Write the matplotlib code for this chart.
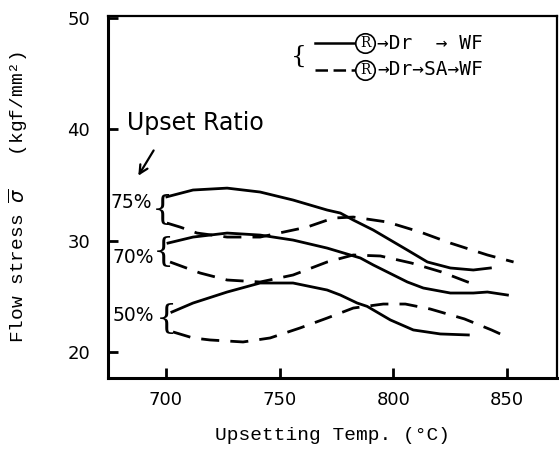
import matplotlib
matplotlib.use("Agg")
import matplotlib.pyplot as plt

# ---- data ----
temp_75_solid = [700.4, 711.9, 726.9, 741.4, 755.9, 770.9, 776.7, 782.4, 791.2, 806.2, 815.0, 825.1, 835.2, 842.7]
flow_75_solid = [33.95, 34.56, 34.73, 34.38, 33.66, 32.76, 32.49, 31.86, 30.96, 29.16, 28.09, 27.55, 27.37, 27.55]

temp_75_dash = [700.4, 706.2, 713.7, 726.9, 741.4, 755.9, 762.1, 773.6, 782.4, 797.4, 811.9, 825.1, 841.4, 852.9]
flow_75_dash = [31.59, 31.23, 30.69, 30.33, 30.33, 30.96, 31.23, 32.04, 32.13, 31.68, 30.78, 29.79, 28.72, 28.09]

temp_70_solid = [700.9, 711.9, 726.9, 741.4, 755.9, 770.9, 785.5, 791.2, 806.2, 813.2, 825.1, 835.2, 841.4, 850.2]
flow_70_solid = [29.79, 30.33, 30.69, 30.51, 30.06, 29.34, 28.45, 27.82, 26.29, 25.75, 25.30, 25.30, 25.39, 25.12]

temp_70_dash = [701.8, 715.0, 726.9, 741.4, 755.9, 770.9, 782.4, 794.3, 807.9, 821.1, 832.6, 837.0]
flow_70_dash = [28.09, 27.10, 26.47, 26.29, 26.92, 28.09, 28.72, 28.63, 28.00, 27.20, 26.30, 26.02]

temp_50_solid = [702.6, 711.9, 726.9, 741.4, 755.9, 770.9, 776.7, 784.1, 788.5, 798.7, 808.8, 820.7, 833.0]
flow_50_solid = [23.59, 24.40, 25.39, 26.20, 26.20, 25.57, 25.12, 24.40, 24.10, 22.88, 21.98, 21.62, 21.53]

temp_50_dash = [703.1, 711.9, 719.4, 733.9, 745.8, 759.0, 770.9, 782.4, 795.6, 805.3, 816.3, 831.3, 843.2, 847.1]
flow_50_dash = [21.80, 21.26, 21.08, 20.90, 21.26, 22.16, 23.05, 23.95, 24.31, 24.31, 23.86, 22.97, 21.98, 21.62]

x_ticks = [700, 750, 800, 850]
y_ticks = [20, 30, 40, 50]
ratio_labels = ["75%", "70%", "50%"]
ratio_label_pos = [(694.0, 33.48), (694.6, 28.45), (694.6, 23.32)]
ratio_brace_pos = [(698.6, 32.76), (698.8, 28.98), (700.0, 22.96)]

MONO = ["Liberation Mono", "DejaVu Sans Mono"]
LEG_MONO = ["DejaVu Sans Mono"]

plt.rcParams["lines.scale_dashes"] = False
fig = plt.figure(figsize=(5.59, 4.49), dpi=100)
ax = fig.add_axes([0.1932, 0.1581, 0.8032, 0.8062])
ax.set_xlim(674.5, 872)
ax.set_ylim(17.66, 50.2)

LW = 2.0
DASH = (13, 8)
ax.plot(temp_75_solid, flow_75_solid, color="black", lw=LW)
ax.plot(temp_70_solid, flow_70_solid, color="black", lw=LW)
ax.plot(temp_50_solid, flow_50_solid, color="black", lw=LW)
for t, f in [(temp_75_dash, flow_75_dash), (temp_70_dash, flow_70_dash), (temp_50_dash, flow_50_dash)]:
    ax.plot(t, f, color="black", lw=LW, linestyle=(0, DASH))

# axes styling
ax.set_xticks(x_ticks)
ax.set_yticks(y_ticks)
ax.tick_params(axis="both", direction="in", length=7, width=2, labelsize=13)
ax.tick_params(axis="y", pad=13)
ax.tick_params(axis="x", pad=9)
for side in ["left", "bottom"]:
    ax.spines[side].set_linewidth(2.2)
for side in ["top", "right"]:
    ax.spines[side].set_linewidth(1.6)

ax.set_xlabel("Upsetting Temp. (°C)", family=MONO, fontsize=14, va="center")
ax.xaxis.set_label_coords(0.5, -0.160)
ax.set_ylabel(r"Flow stress $\overline{\sigma}$   (kgf/mm²)", family=MONO, fontsize=14, va="center")
ax.yaxis.set_label_coords(-0.200, 0.5)

# Upset ratio annotations
ax.text(682.8, 40.57, "Upset Ratio", fontsize=17, ha="left", va="center")
ax.annotate("", xy=(687.2, 35.63), xytext=(695.2, 38.33),
            arrowprops=dict(arrowstyle="->", lw=1.6, color="black", mutation_scale=15))
for lab, (lx, ly), (bx, by) in zip(ratio_labels, ratio_label_pos, ratio_brace_pos):
    ax.text(lx, ly, lab, fontsize=13.5, ha="right", va="center")
    ax.text(bx, by, "{", fontsize=24, ha="center", va="center", family="DejaVu Serif")

# legend (drawn in axes coordinates)
rows = [(0.925, "-", "→Dr  → WF"), (0.851, (0, (9, 4)), "→Dr→SA→WF")]
for y, ls, txt in rows:
    ax.plot([0.461, 0.552], [y, y], transform=ax.transAxes, color="black", lw=1.8, linestyle=ls)
    ax.plot([0.5735], [y], transform=ax.transAxes, marker="o", ms=14, mfc="white", mec="black", mew=1.2)
    ax.text(0.5735, y, "R", transform=ax.transAxes, fontsize=10, ha="center", va="center", family="DejaVu Serif")
    ax.text(0.599, y, txt, transform=ax.transAxes, fontsize=14, ha="left", va="center", family=LEG_MONO)
ax.text(0.425, 0.888, "{", transform=ax.transAxes, fontsize=18, ha="center", va="center", family="DejaVu Serif")

fig.savefig("out.png", dpi=100)
